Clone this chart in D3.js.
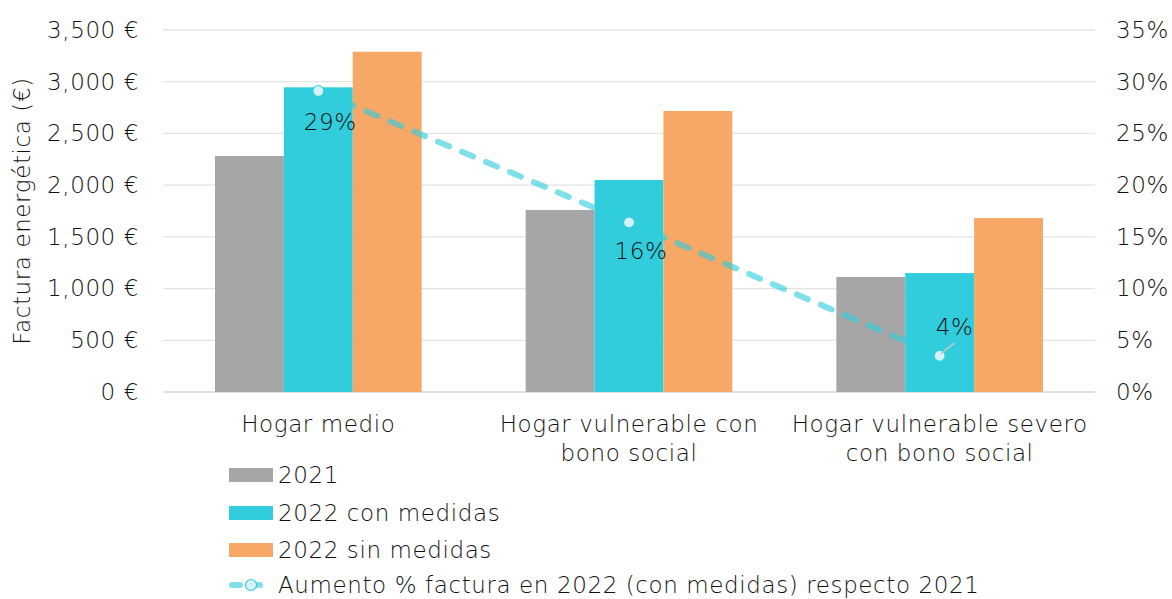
<!DOCTYPE html>
<html>
<head>
<meta charset="utf-8">
<script src="https://cdn.jsdelivr.net/npm/d3@7"></script>
<style>
  body { margin: 0; background: #fff; }
  svg text { font-family: "DejaVu Sans", sans-serif; font-weight: 200; fill: #111; letter-spacing: 0.6px; }
</style>
</head>
<body>
<div id="chart"></div>
<script>
// data
const categories = [["Hogar medio"], ["Hogar vulnerable con", "bono social"], ["Hogar vulnerable severo", "con bono social"]];
const seriesNames = ["2021", "2022 con medidas", "2022 sin medidas"];
const values2021 = [2282, 1760, 1112];
const valuesCon = [2946, 2050, 1150];
const valuesSin = [3290, 2717, 1682];
const pctIncrease = [29.1, 16.4, 3.5];
const pctLabels = ["29%", "16%", "4%"];
const leftTicks = [0, 500, 1000, 1500, 2000, 2500, 3000, 3500];
const rightTicks = [0, 5, 10, 15, 20, 25, 30, 35];
const lineName = "Aumento % factura en 2022 (con medidas) respecto 2021";

const colors = ["#a6a6a6", "#31cddd", "#f7a766"];
const fontSize = "23px";

const margin = { top: 30, right: 77, bottom: 207, left: 163 },
    width = 1172 - margin.left - margin.right,
    height = 599 - margin.top - margin.bottom;

const svgRoot = d3.select("#chart").append("svg")
    .attr("width", 1172)
    .attr("height", 599);
const svg = svgRoot.append("g")
    .attr("transform", `translate(${margin.left},${margin.top})`);

const x = d3.scaleBand().domain(d3.range(categories.length)).range([0, width]);
// bar group of ~207px inside a 310px band
const xSub = d3.scaleBand().domain(d3.range(3)).range([52, x.bandwidth() - 52]);

const y = d3.scaleLinear().domain([0, 3500]).range([height, 0]);
const y2 = d3.scaleLinear().domain([0, 35]).range([height, 0]);

// gridlines
svg.append("g")
    .selectAll("line")
    .data(leftTicks)
    .join("line")
    .attr("x1", 0).attr("x2", width)
    .attr("y1", d => y(d)).attr("y2", d => y(d))
    .attr("stroke", d => d === 0 ? "#d4d4d4" : "#e3e3e3")
    .attr("stroke-width", 1.3);

// left axis
const fmt = d3.format(",");
svg.append("g")
    .call(d3.axisLeft(y).tickValues(leftTicks).tickSize(0).tickPadding(24).tickFormat(d => fmt(d) + " €"))
    .call(g => g.select(".domain").remove())
    .selectAll("text")
    .style("font-size", fontSize)
    .attr("fill", "#111");

// right axis
svg.append("g")
    .attr("transform", `translate(${width},0)`)
    .call(d3.axisRight(y2).tickValues(rightTicks).tickSize(0).tickPadding(21).tickFormat(d => d + "%"))
    .call(g => g.select(".domain").remove())
    .selectAll("text")
    .style("font-size", fontSize)
    .attr("fill", "#111");

// y axis title
svg.append("text")
    .attr("transform", `translate(${22 - margin.left},${211 - margin.top}) rotate(-90)`)
    .attr("text-anchor", "middle")
    .attr("dominant-baseline", "central")
    .style("font-size", fontSize)
    .text("Factura energética (€)");

// bars
const series = [values2021, valuesCon, valuesSin];
svg.append("g")
    .selectAll("g")
    .data(series)
    .join("g")
    .attr("fill", (d, i) => colors[i])
    .each(function(vals, si) {
        d3.select(this).selectAll("rect")
            .data(vals)
            .join("rect")
            .attr("x", (d, ci) => x(ci) + xSub(si))
            .attr("y", d => y(d))
            .attr("width", xSub.bandwidth())
            .attr("height", d => height - y(d));
    });

// category labels
const catG = svg.append("g")
    .selectAll("text")
    .data(categories)
    .join("text")
    .attr("text-anchor", "middle")
    .attr("x", (d, i) => x(i) + x.bandwidth() / 2)
    .attr("y", height + 40)
    .style("font-size", fontSize);
catG.selectAll("tspan")
    .data(d => d)
    .join("tspan")
    .attr("x", function() { return d3.select(this.parentNode).attr("x"); })
    .attr("dy", (d, i) => i === 0 ? 0 : 29)
    .text(d => d);

// percentage line
const cx = i => x(i) + x.bandwidth() / 2;
const line = d3.line().x((d, i) => cx(i)).y(d => y2(d));
svg.append("path")
    .datum(pctIncrease)
    .attr("d", line)
    .attr("fill", "none")
    .attr("stroke", "#31cddd")
    .attr("stroke-opacity", 0.62)
    .attr("stroke-width", 6)
    .attr("stroke-linecap", "round")
    .attr("stroke-dasharray", "12 14");

svg.append("g")
    .selectAll("circle")
    .data(pctIncrease)
    .join("circle")
    .attr("cx", (d, i) => cx(i))
    .attr("cy", d => y2(d))
    .attr("r", 5.5)
    .attr("fill", "#d3f3f7")
    .attr("stroke", "#31cddd")
    .attr("stroke-width", 1.2);

// leader line for the last label
svg.append("line")
    .attr("x1", cx(2) + 1).attr("y1", y2(pctIncrease[2]) - 2)
    .attr("x2", cx(2) + 15).attr("y2", y2(pctIncrease[2]) - 13)
    .attr("stroke", "#c4c4c4")
    .attr("stroke-width", 1.5);

const labelOffsets = [[12, 39], [12, 37], [15, -21]];
svg.append("g")
    .selectAll("text")
    .data(pctIncrease)
    .join("text")
    .attr("x", (d, i) => cx(i) + labelOffsets[i][0])
    .attr("y", (d, i) => y2(d) + labelOffsets[i][1])
    .attr("text-anchor", "middle")
    .style("font-size", fontSize)
    .text((d, i) => pctLabels[i]);

// legend
const legend = svgRoot.append("g").attr("transform", "translate(229,0)");
const legendRows = [475, 513, 550];
const lineRow = 585;
seriesNames.forEach((name, i) => {
    legend.append("rect")
        .attr("x", 0).attr("y", legendRows[i] - 7)
        .attr("width", 44).attr("height", 14)
        .attr("fill", colors[i]);
    legend.append("text")
        .attr("x", 49).attr("y", legendRows[i])
        .attr("dominant-baseline", "central")
        .style("font-size", fontSize)
        .text(name);
});
legend.append("line")
    .attr("x1", 3).attr("x2", 41).attr("y1", lineRow).attr("y2", lineRow)
    .attr("stroke", "#31cddd").attr("stroke-opacity", 0.62)
    .attr("stroke-width", 6).attr("stroke-linecap", "round")
    .attr("stroke-dasharray", "8 12");
legend.append("circle")
    .attr("cx", 22).attr("cy", lineRow).attr("r", 5.5)
    .attr("fill", "#d3f3f7").attr("stroke", "#31cddd").attr("stroke-width", 1.2);
legend.append("text")
    .attr("x", 49).attr("y", lineRow)
    .attr("dominant-baseline", "central")
    .style("font-size", fontSize)
    .text(lineName);
</script>
</body>
</html>
